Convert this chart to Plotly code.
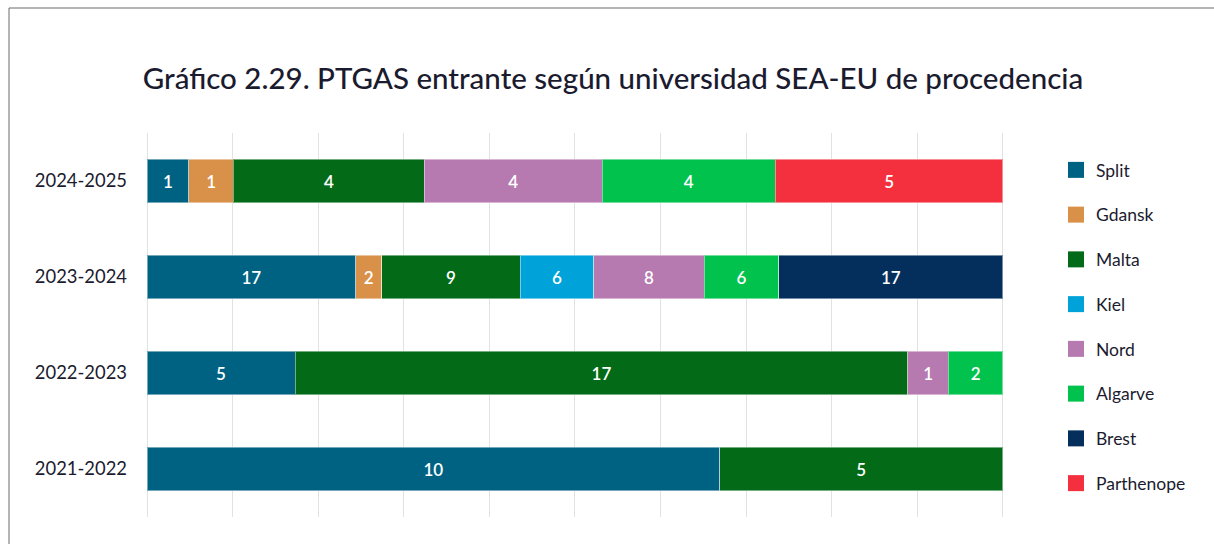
import plotly.graph_objects as go

years = ["2021-2022", "2022-2023", "2023-2024", "2024-2025"]
universities = ["Split", "Gdansk", "Malta", "Kiel", "Nord", "Algarve", "Brest", "Parthenope"]
# counts shown as labels
split = [10, 5, 17, 1]
gdansk = [None, None, 2, 1]
malta = [5, 17, 9, 4]
kiel = [None, None, 6, None]
nord = [None, 1, 8, 4]
algarve = [None, 2, 6, 4]
brest = [None, None, 17, None]
parthenope = [None, None, None, 5]
# share of each bar (%) as drawn in the reference
split_pct = [66.9, 17.3, 24.4, 4.9]
gdansk_pct = [None, None, 3.0, 5.2]
malta_pct = [33.1, 71.6, 16.2, 22.3]
kiel_pct = [None, None, 8.6, None]
nord_pct = [None, 4.7, 12.9, 20.8]
algarve_pct = [None, 6.4, 8.7, 20.2]
brest_pct = [None, None, 26.2, None]
parthenope_pct = [None, None, None, 26.6]

counts = [split, gdansk, malta, kiel, nord, algarve, brest, parthenope]
shares = [split_pct, gdansk_pct, malta_pct, kiel_pct, nord_pct, algarve_pct, brest_pct, parthenope_pct]
colors = ["#006283", "#D9914A", "#036B17", "#00A3D9", "#B679B0", "#00C24D", "#042F5C", "#F4303E"]

W, H = 1214, 544
L, R, T, B = 147, 1004, 133, 517
TXT = "#1b1b2f"

fig = go.Figure()
for name, vals, pct, col in zip(universities, counts, shares, colors):
    fig.add_trace(go.Bar(
        y=years, x=pct, name=name, orientation="h",
        marker=dict(color=col, line=dict(color="rgba(255,255,255,0.45)", width=1)),
        text=[("" if v is None else str(v)) for v in vals],
        textposition="inside", insidetextanchor="middle", textangle=0,
        textfont=dict(color="white", size=17, family="Lato", weight=600),
        showlegend=False,
    ))
for name, col in zip(universities, colors):
    fig.add_trace(go.Scatter(
        x=[None], y=[None], mode="markers", name=name, legendgroup=name,
        marker=dict(symbol="square", size=17, color=col),
    ))

def px_x(p):
    return (p - L) / (R - L)

def px_y(p):
    return (B - p) / (B - T)

fig.add_shape(type="rect", xref="paper", yref="paper",
              x0=px_x(9), x1=px_x(1230), y0=px_y(8), y1=px_y(560),
              line=dict(color="#6a6a6a", width=1), fillcolor="rgba(0,0,0,0)", layer="below")

fig.update_layout(
    width=W, height=H,
    margin=dict(l=L, r=W - R, t=T, b=H - B, pad=0, autoexpand=False),
    barmode="stack", bargap=0.55,
    plot_bgcolor="white", paper_bgcolor="white",
    font=dict(family="Lato", color=TXT),
    title=dict(text="Gráfico 2.29. PTGAS entrante según universidad SEA-EU de procedencia",
               x=613 / W, xanchor="center", y=1 - 79 / H, yanchor="middle",
               font=dict(size=29.5, family="Lato", color=TXT, weight=500)),
    xaxis=dict(range=[0, 100.12], tick0=0, dtick=10, showticklabels=False, showgrid=True,
               gridcolor="#e2e2e2", gridwidth=1, zeroline=True, zerolinecolor="#e2e2e2",
               zerolinewidth=1, showline=False, fixedrange=True),
    yaxis=dict(categoryorder="array", categoryarray=years, showgrid=False,
               ticks="", tickfont=dict(size=18.4, family="Lato", color=TXT),
               ticklabelstandoff=19, automargin=False),
    legend=dict(x=px_x(1056), xanchor="left", y=px_y(152), yanchor="top",
                traceorder="grouped", tracegroupgap=19, itemsizing="trace",
                font=dict(size=17.5, family="Lato", color=TXT),
                itemwidth=30, bgcolor="rgba(0,0,0,0)"),
    uniformtext=dict(minsize=10, mode="show"),
)

fig.write_html("out.html", config={"displayModeBar": False},
               post_script="document.body.style.margin='0';")
